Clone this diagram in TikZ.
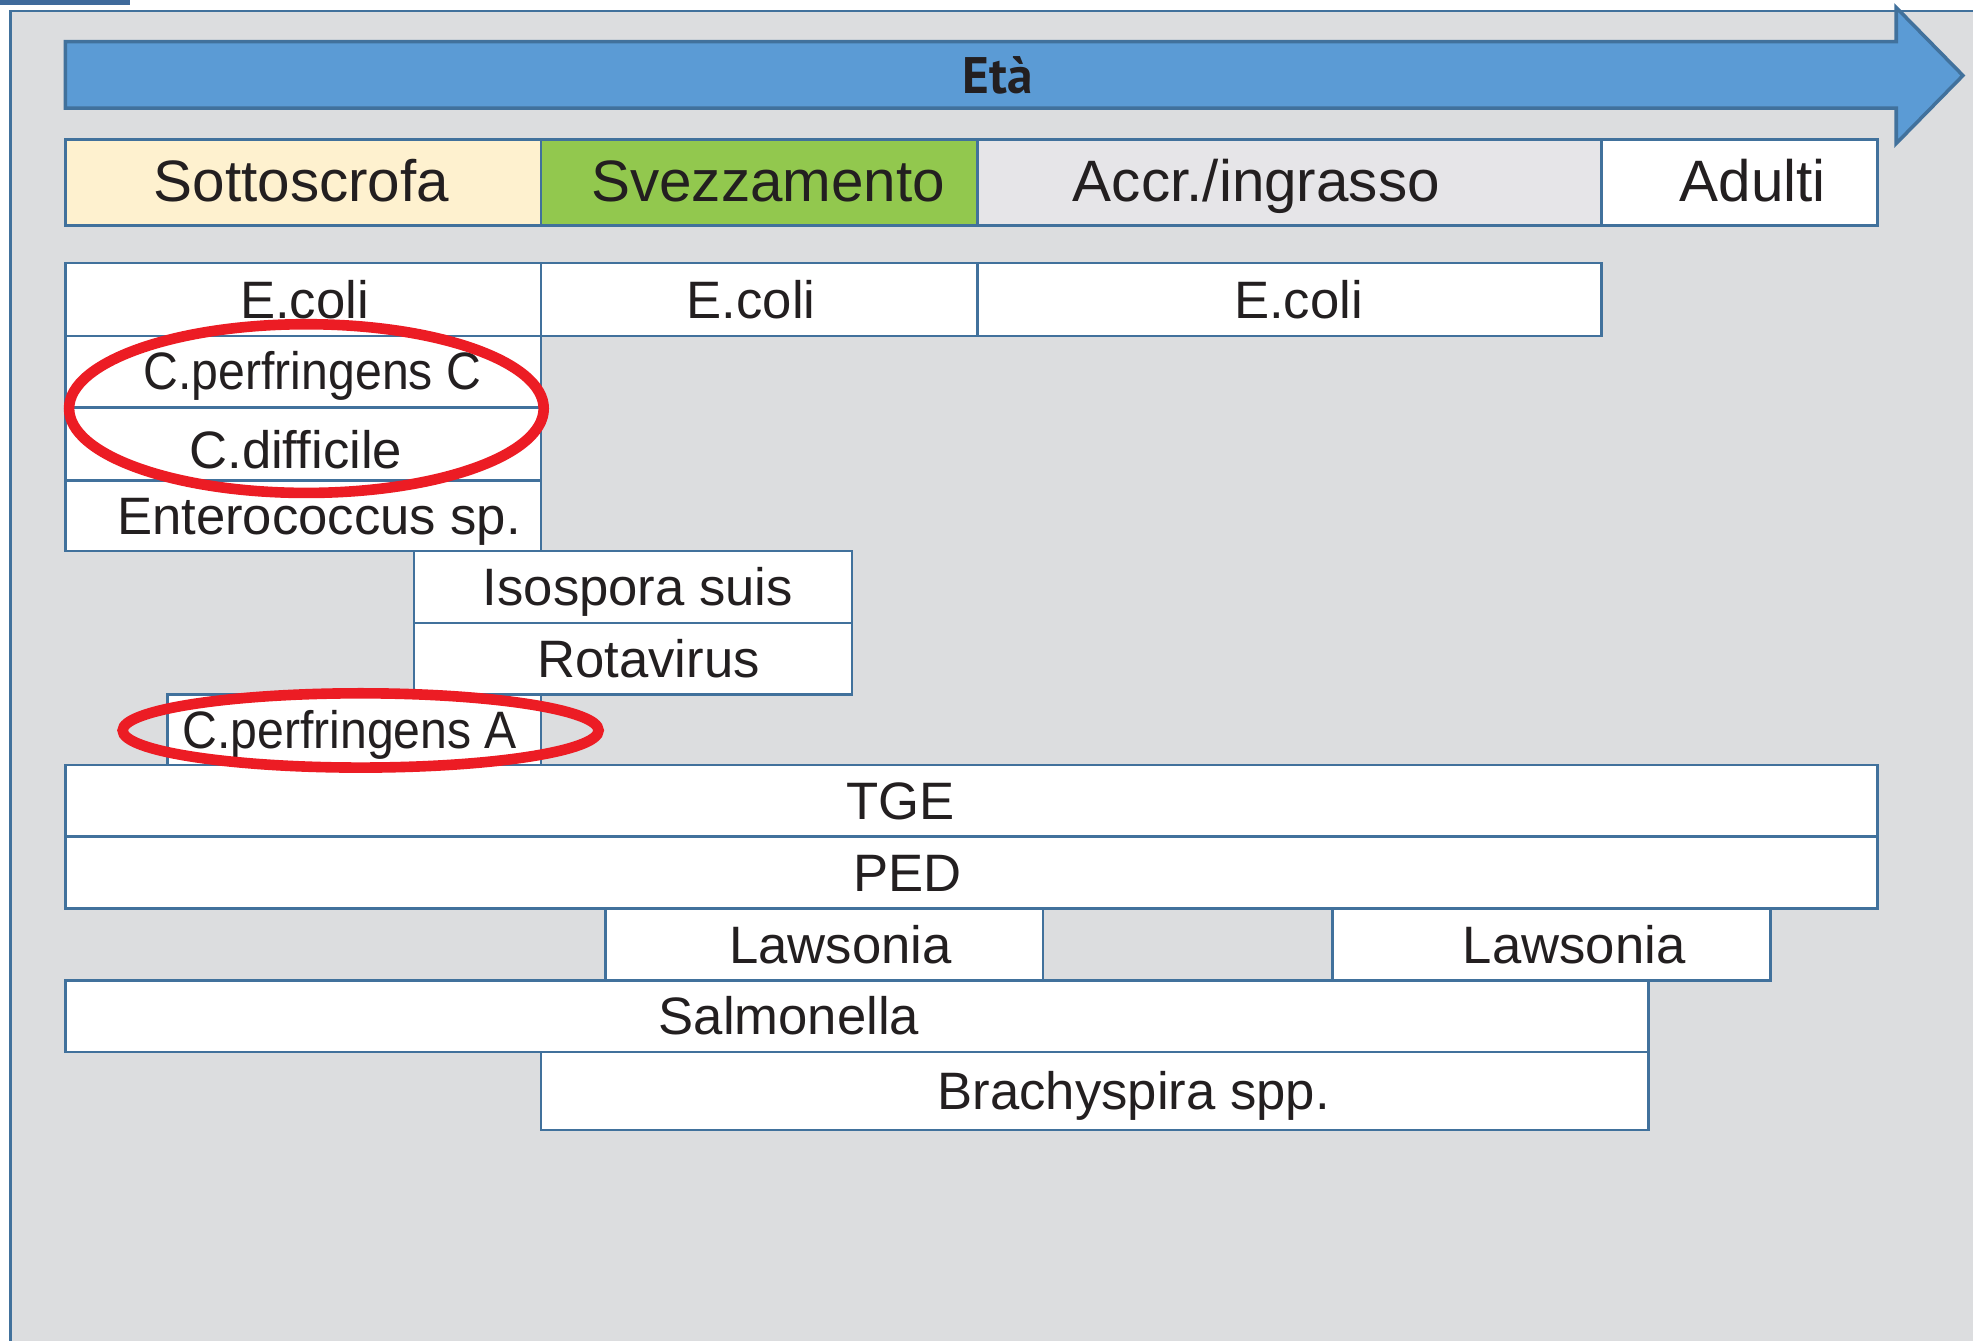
\documentclass[tikz,border=0pt]{standalone}
\usepackage{fontspec}
\setmainfont{Liberation Sans}
\newfontfamily\etafont{PT Sans}
\usepackage{tikz}

\definecolor{bggray}{HTML}{DCDDDF}
\definecolor{linebl}{HTML}{41719C}
\definecolor{tabbl}{HTML}{3F6A9B}
\definecolor{arrowbl}{HTML}{5B9BD5}
\definecolor{cream}{HTML}{FEF1CF}
\definecolor{leafgr}{HTML}{92C84E}
\definecolor{accrgr}{HTML}{E6E5E8}
\definecolor{ringred}{HTML}{EC1C24}
\definecolor{inkblk}{HTML}{231F20}

\newcommand{\tight}[1]{\scalebox{0.915}[1]{#1}}

\tikzset{
  cellbox/.style={draw=linebl, line width=0.6pt, fill=white},
  celltext/.style={font=\fontsize{11.9}{14}\selectfont, text=inkblk,
    text height=8.5pt, text depth=0pt, inner sep=0pt},
  phasetext/.style={font=\fontsize{13.2}{16}\selectfont, text=inkblk,
    text height=9.45pt, text depth=0pt, inner sep=0pt},
  redring/.style={draw=ringred, line width=2.4pt}
}

\begin{document}
\begin{tikzpicture}[x=0.01cm, y=-0.01cm]
  \useasboundingbox (0,0) rectangle (1568,1066);
  \fill[white] (0,0) rectangle (1568,1066);
  \fill[tabbl] (0,0) rectangle (103,4);
  \fill[bggray] (8.5,8.7) rectangle (1568,1066);
  \draw[linebl, line width=0.6pt] (1568,8.7) -- (8.5,8.7) -- (8.5,1066);

  % age arrow
  \draw[draw=linebl, fill=arrowbl, line width=0.8pt]
    (52,33) -- (1507,33) -- (1507,6) -- (1560,60) -- (1507,114) -- (1507,86) -- (52,86) -- cycle;
  \node[font=\etafont\bfseries\fontsize{11.6}{14}\selectfont, text=inkblk,
    text height=8.1pt, text depth=0pt, inner sep=0pt] (eta) at (793,60) {Età};

  % phases
  \foreach \nm/\xa/\xb/\col/\tx/\txt in {sotto/52/430/cream/239.5/Sottoscrofa,
      svezz/430/777/leafgr/610.5/Svezzamento, accr/777/1273/accrgr/998.5/{Accr./ingrasso},
      adulti/1273/1492/white/1393/Adulti}
  {
    \draw[cellbox, fill=\col] (\xa,111) rectangle (\xb,179);
    \node[phasetext] (\nm) at (\tx,143.5) {\txt};
  }

  % pathogens (\dy: text shift inside the box)
  \foreach \nm/\xa/\ya/\xb/\yb/\tx/\dy/\txt in {
      ecolia/52/209/430/267/242/0/E.coli,
      ecolib/430/209/777/267/597/0/E.coli,
      ecolic/777/209/1273/267/1032/0/E.coli,
      cperfc/52/267/430/324/248.3/-1/\tight{C.perfringens C},
      cdiff/52/324/430/382/235/4/C.difficile,
      entero/52/382/430/438/253.5/0/Enterococcus sp.,
      isosp/329/438/677/495/507/0/Isospora suis,
      rota/329/495/677/552/515.5/0/Rotavirus,
      cperfa/133/552/430/608/278/0/\tight{C.perfringens A},
      tge/52/608/1492/665/715.5/0/TGE,
      ped/52/665/1492/722/721.5/0/PED,
      lawsa/481/722/829/779/668/0/Lawsonia,
      lawsb/1059/722/1407/779/1251/0/Lawsonia,
      salmo/52/779/1310/836/627/0/Salmonella,
      brachy/430/836/1310/898/901/0/Brachyspira spp.}
  {
    \draw[cellbox] (\xa,\ya) rectangle (\xb,\yb);
    \node[celltext] (\nm) at (\tx,{(\ya+\yb)/2+\dy}) {\txt};
  }

  % highlights
  \draw[redring] (243.5,324.7) ellipse [x radius=1.885cm, y radius=0.67cm];
  \draw[redring] (286.6,580.5) ellipse [x radius=1.89cm, y radius=0.295cm];
\end{tikzpicture}
\end{document}
